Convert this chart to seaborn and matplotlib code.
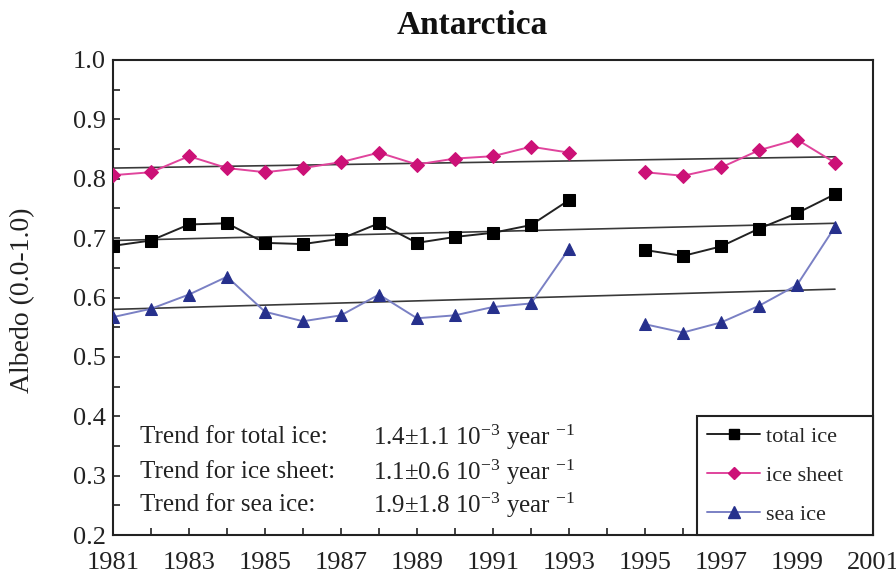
import numpy as np
import pandas as pd
import matplotlib
matplotlib.use("Agg")
import matplotlib.pyplot as plt
import seaborn as sns
from matplotlib.lines import Line2D
from matplotlib.ticker import MultipleLocator

# ---- data ----
years = [1981, 1982, 1983, 1984, 1985, 1986, 1987, 1988, 1989, 1990,
         1991, 1992, 1993, 1995, 1996, 1997, 1998, 1999, 2000]
segment = [1] * 13 + [2] * 6
total_ice = [0.687, 0.696, 0.723, 0.725, 0.692, 0.690, 0.699, 0.725, 0.692, 0.702,
             0.709, 0.722, 0.764, 0.680, 0.670, 0.686, 0.716, 0.742, 0.774]
ice_sheet = [0.806, 0.811, 0.838, 0.818, 0.811, 0.818, 0.828, 0.844, 0.824, 0.834,
             0.838, 0.854, 0.844, 0.811, 0.805, 0.819, 0.848, 0.866, 0.827]
sea_ice = [0.567, 0.581, 0.605, 0.635, 0.576, 0.560, 0.570, 0.605, 0.565, 0.570,
           0.584, 0.590, 0.682, 0.555, 0.541, 0.558, 0.586, 0.621, 0.719]

series_names = ["total ice", "ice sheet", "sea ice"]
trend_years = [1981, 2000]
trend_total = [0.696, 0.725]
trend_sheet = [0.818, 0.837]
trend_sea = [0.580, 0.614]

trend_labels = ["Trend for total ice:", "Trend for ice sheet:", "Trend for sea ice:"]
trend_values = ["1.4\u00b11.1", "1.1\u00b10.6", "1.9\u00b11.8"]

xticks = list(range(1981, 2002, 2))
yticks = [0.2, 0.3, 0.4, 0.5, 0.6, 0.7, 0.8, 0.9, 1.0]

# ---- style ----
sns.set_theme(style="ticks")
plt.rcParams["font.family"] = ["Liberation Serif", "DejaVu Serif"]
plt.rcParams["mathtext.fontset"] = "custom"
plt.rcParams["mathtext.rm"] = "Liberation Serif"
plt.rcParams["mathtext.it"] = "Liberation Serif:italic"
plt.rcParams["mathtext.bf"] = "Liberation Serif:bold"

line_colors = {"total ice": "#222222", "ice sheet": "#e0449c", "sea ice": "#7a80c4"}
marker_colors = {"total ice": "#000000", "ice sheet": "#cc1177", "sea ice": "#26308c"}
markers = {"total ice": "s", "ice sheet": "D", "sea ice": "^"}
msizes = {"total ice": 8, "ice sheet": 7, "sea ice": 9}

df = pd.concat([
    pd.DataFrame({"year": years, "albedo": vals, "series": name, "segment": segment})
    for name, vals in zip(series_names, [total_ice, ice_sheet, sea_ice])
])
tdf = pd.concat([
    pd.DataFrame({"year": trend_years, "albedo": vals, "series": name})
    for name, vals in zip(series_names, [trend_total, trend_sheet, trend_sea])
])

fig = plt.figure(figsize=(8.96, 5.75), dpi=100)
ax = fig.add_axes([113 / 896, 1 - 535 / 575, 760 / 896, 475 / 575])

# trend lines
for name in series_names:
    sns.lineplot(data=tdf[tdf.series == name], x="year", y="albedo", ax=ax,
                 color="#3a3a3a", linewidth=1.2, legend=False, zorder=2)

# series
for name in series_names:
    sub = df[df.series == name]
    sns.lineplot(data=sub, x="year", y="albedo", units="segment", estimator=None,
                 ax=ax, color=line_colors[name], linewidth=1.4, marker=markers[name],
                 markersize=msizes[name], markerfacecolor=marker_colors[name],
                 markeredgecolor=marker_colors[name], legend=False, zorder=3)

ax.set_xlim(1981, 2001)
ax.set_ylim(0.2, 1.0)
ax.set_xticks(xticks)
ax.set_xticklabels([str(x) for x in xticks])
ax.xaxis.set_minor_locator(MultipleLocator(1))
ax.set_yticks(yticks)
ax.set_yticklabels([f"{y:.1f}" for y in yticks])
ax.yaxis.set_minor_locator(MultipleLocator(0.05))
ax.tick_params(axis="both", which="both", direction="in", length=5, width=1.2,
               labelsize=19, colors="#222222", pad=5)
ax.tick_params(axis="x", which="major", pad=12)
for s in ax.spines.values():
    s.set_linewidth(1.5)
    s.set_color("#222222")
    s.set_visible(True)

ax.set_xlabel("")
ax.set_ylabel("Albedo (0.0-1.0)", fontsize=20, color="#222222")
ax.yaxis.set_label_coords(-0.103, 0.495)

fig.text(472 / 896, 1 - 26 / 575, "Antarctica", ha="center", va="center",
         fontsize=24, fontweight="bold", color="#111111")

# annotations
rows_y = [0.365, 0.306, 0.250]
for lab, val, yy in zip(trend_labels, trend_values, rows_y):
    ax.text(1981.71, yy, lab, fontsize=18, va="center", ha="left", color="#222222")
    ax.text(1987.84, yy, val + r" 10$^{\mathrm{-3}}$ year $^{\mathrm{-1}}$",
            fontsize=18, va="center", ha="left", color="#222222")

handles = [Line2D([0], [0], color=line_colors[n], lw=1.4, marker=markers[n],
                  markersize=msizes[n] - 1, markerfacecolor=marker_colors[n],
                  markeredgecolor=marker_colors[n]) for n in series_names]
leg = ax.legend(handles, series_names, loc="lower left",
                bbox_to_anchor=((697 - 113) / 760, 0, (873 - 697) / 760, 0.3),
                mode="expand", borderaxespad=0,
                fancybox=False, edgecolor="#222222", framealpha=1, fontsize=16,
                handlelength=2.4, labelspacing=0.84, borderpad=0.45,
                handletextpad=0.25)
leg.get_frame().set_linewidth(1.5)

fig.savefig("out.png", dpi=100)
